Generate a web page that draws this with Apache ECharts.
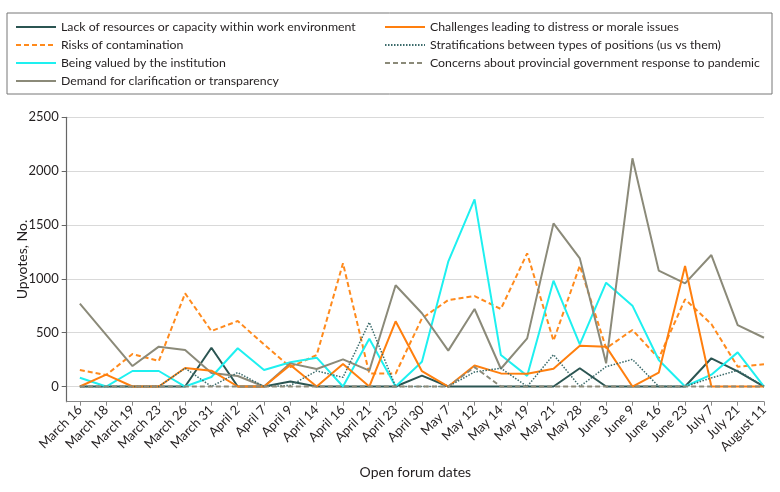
<!DOCTYPE html>
<html>
<head>
<meta charset="utf-8">
<script src="https://cdn.jsdelivr.net/npm/echarts@6/dist/echarts.min.js"></script>
<style>html,body{margin:0;padding:0;background:#fff}#c{width:780px;height:492px}</style>
</head>
<body>
<div id="c"></div>
<script>
const dates = ['March 16','March 18','March 19','March 23','March 26','March 31','April 2','April 7','April 9','April 14','April 16','April 21','April 23','April 30','May 7','May 12','May 14','May 19','May 21','May 28','June 3','June 9','June 16','June 23','July 7','July 21','August 11'];
const yTicks = [0, 500, 1000, 1500, 2000, 2500];

const lackResources = [0,0,0,0,0,360,0,0,46,0,0,0,0,101,0,0,0,0,0,170,0,0,0,0,262,140,0];
const risksContamination = [153,107,302,237,865,515,608,390,180,292,1144,120,120,633,803,840,720,1237,425,1122,355,525,262,810,580,184,206];
const beingValued = [82,0,144,144,0,88,355,153,226,268,0,444,0,230,1159,1738,292,99,983,392,964,751,246,0,110,317,0];
const demandClarification = [770,480,190,370,339,126,98,0,215,163,252,147,940,680,333,720,165,447,1515,1190,215,2119,1076,958,1221,571,453];
const challengesDistress = [0,110,0,0,172,147,0,0,200,0,209,0,606,142,0,195,122,119,165,378,370,0,128,1119,0,0,0];
const stratifications = [0,0,0,0,170,0,130,0,10,145,85,595,0,0,0,135,170,0,296,0,184,252,0,0,80,150,0];
const provincialConcerns = [0,0,0,0,0,0,0,0,0,0,0,0,0,0,0,180,0,0,0,0,0,0,0,0,0,0,0];

const FONT = 'Lato, "Noto Sans", sans-serif';
const pairs = arr => arr.map((v, i) => [i, v]);

const seriesDefs = [
  {name: 'Lack of resources or capacity within work environment', data: lackResources, color: '#2b5552', type: 'solid', width: 2},
  {name: 'Risks of contamination', data: risksContamination, color: '#ff8a1c', type: [5, 3], width: 2},
  {name: 'Being valued by the institution', data: beingValued, color: '#1ef0f0', type: 'solid', width: 2},
  {name: 'Demand for clarification or transparency', data: demandClarification, color: '#8b8a79', type: 'solid', width: 2},
  {name: 'Challenges leading to distress or morale issues', data: challengesDistress, color: '#ff7f0e', type: 'solid', width: 2},
  {name: 'Stratifications between types of positions (us vs them)', data: stratifications, color: '#3a6a6a', type: [1.5, 1.5], width: 1.5},
  {name: 'Concerns about provincial government response to pandemic', data: provincialConcerns, color: '#8b8a79', type: [5, 3], width: 2}
];

const legendText = {fontFamily: FONT, fontSize: 12.3, color: '#231f20', lineHeight: 14};
const legendBase = {orient: 'vertical', itemWidth: 40, itemHeight: 14, itemGap: 4, itemStyle: {opacity: 0}, selectedMode: false};

const chart = echarts.init(document.getElementById('c'), null, {renderer: 'canvas'});
chart.setOption({
  animation: false,
  backgroundColor: '#fff',
  textStyle: {fontFamily: FONT},
  legend: [
    Object.assign({}, legendBase, {
      data: seriesDefs.slice(0, 4).map(s => s.name),
      left: 7, top: 13,
      padding: [7, 391, 6, 8],
      borderColor: '#777', borderWidth: 1,
      textStyle: Object.assign({}, legendText, {width: 320})
    }),
    Object.assign({}, legendBase, {
      data: seriesDefs.slice(4).map(s => s.name),
      left: 384, top: 20,
      padding: 0,
      textStyle: legendText
    })
  ],
  grid: {left: 66.7, right: 16, top: 117.3, bottom: 90.3, containLabel: false},
  xAxis: {
    type: 'value', min: -0.5, max: 26,
    name: 'Open forum dates', nameLocation: 'middle', nameGap: 64,
    nameTextStyle: {fontFamily: FONT, fontSize: 14, color: '#231f20'},
    axisLine: {show: true, onZero: false, lineStyle: {color: '#888', width: 1.2}},
    axisTick: {show: true, length: 4, lineStyle: {color: '#888'}, customValues: dates.map((d, i) => i)},
    axisLabel: {customValues: dates.map((d, i) => i), formatter: v => dates[Math.round(v)], rotate: 45, margin: 6,
      fontFamily: FONT, fontSize: 13, color: '#231f20'},
    splitLine: {show: false}
  },
  yAxis: {
    type: 'value', min: -141, max: 2500,
    name: 'Upvotes, No.', nameLocation: 'middle', nameGap: 37, nameMoveOverlap: false,
    nameTextStyle: {fontFamily: FONT, fontSize: 14, color: '#231f20'},
    axisLine: {show: true, onZero: false, lineStyle: {color: '#666', width: 1.2}},
    axisTick: {show: true, length: 5, inside: false, lineStyle: {color: '#666'}, customValues: yTicks},
    axisLabel: {customValues: yTicks, formatter: v => String(v), fontFamily: FONT, fontSize: 13, color: '#231f20', margin: 8},
    splitLine: {show: true, lineStyle: {color: '#d9d9d9', width: 1.2}}
  },
  series: seriesDefs.map(s => ({
    name: s.name, type: 'line', data: pairs(s.data),
    symbol: 'none', showSymbol: false,
    itemStyle: {color: s.color},
    lineStyle: {color: s.color, type: s.type, width: s.width},
    emphasis: {disabled: true}
  }))
});
</script>
</body>
</html>
